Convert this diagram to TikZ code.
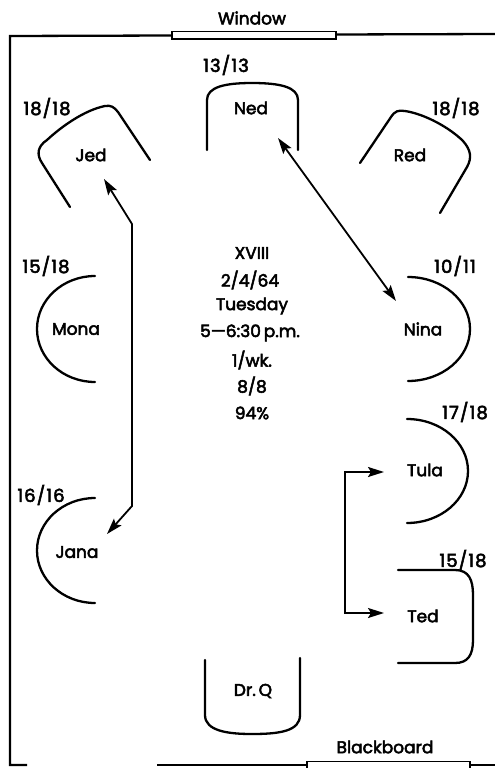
\documentclass[tikz,border=0pt]{standalone}
\usepackage{fontspec}
\setmainfont{Poppins}[FakeBold=3]
\usetikzlibrary{arrows.meta}
\tikzset{
  lbl/.style={font=\fontsize{17}{20}\selectfont, inner sep=0pt},
  num/.style={font=\fontsize{18}{20}\selectfont\addfontfeatures{LetterSpace=6}, inner sep=0pt},
  wall/.style={line width=2.3pt},
  seat/.style={line width=2.3pt, line cap=round},
  pane/.style={line width=1.2pt},
  link/.style={line width=1.8pt, {Stealth[length=16pt,width=10pt,inset=3pt]}-{Stealth[length=16pt,width=10pt,inset=3pt]}}
}
\begin{document}
\begin{tikzpicture}[x=1pt,y=-1pt]
\useasboundingbox (0,0) rectangle (495,768);
% walls
\draw[wall] (172,35.5) -- (10,36) -- (10,765) -- (27,765);
\draw[wall] (336,34.5) -- (495,34);
\draw[wall] (157,765) -- (307,765);
\draw[wall] (470,765) -- (495,765);
\draw[pane] (172,31.5) rectangle (336,39);
\draw[pane] (307,770) -- (307,761.5) -- (470,761.5) -- (470,770);
\node[lbl] (window) at (252,18) {Window};
\node[lbl] (blackboard) at (385,747) {Blackboard};
% seats
\draw[seat] (207,150) -- (207,100) .. controls (207,87) and (225,83) .. (252,83) .. controls (280,83) and (298,87) .. (298,100) -- (298,150);
\draw[seat] (70,207) -- (42,163) .. controls (36,154) and (38,146) .. (47,140) .. controls (62,126) and (85,110) .. (105,106) .. controls (111,105) and (114,107) .. (118,112) -- (150,160);
\draw[seat] (360,163) -- (391,117) .. controls (395,111) and (398,110) .. (405,111) .. controls (425,114) and (450,128) .. (463,141) .. controls (471,150) and (472,158) .. (467,167) -- (440,213);
\draw[seat] (95,276) arc[start angle=270, end angle=90, x radius=58, y radius=53];
\draw[seat] (408,277) arc[start angle=270, end angle=450, x radius=62, y radius=52];
\draw[seat] (95,498) arc[start angle=270, end angle=90, x radius=58, y radius=52.5];
\draw[seat] (407,419) arc[start angle=270, end angle=450, x radius=61, y radius=52];
\draw[seat] (398,570) -- (455,570) .. controls (469,570) and (473,580) .. (473,595) -- (473,640) .. controls (473,655) and (468,663) .. (455,663) -- (398,663);
\draw[seat] (205,660) -- (205,715) .. controls (205,731) and (228,734) .. (252,734) .. controls (280,734) and (300,731) .. (300,715) -- (300,658);
% names
\node[lbl] (ned) at (251,108) {Ned};
\node[lbl] (jed) at (91,155) {Jed};
\node[lbl] (red) at (410,155) {Red};
\node[lbl] (mona) at (76,329) {Mona};
\node[lbl] (nina) at (423,329) {Nina};
\node[lbl] (jana) at (77,552) {Jana};
\node[lbl] (tula) at (425,470) {Tula};
\node[lbl] (ted) at (423,616) {Ted};
\node[lbl] (drq) at (253,691) {Dr.\,Q};
% scores
\node[num] (sned) at (226,65) {13/13};
\node[num] (sjed) at (47,108) {18/18};
\node[num] (sred) at (456,108) {18/18};
\node[num] (smona) at (46,266) {15/18};
\node[num] (snina) at (455,266) {10/11};
\node[num] (sjana) at (41,495) {16/16};
\node[num] (stula) at (465,412) {17/18};
\node[num] (sted) at (463,560) {15/18};
% centre
\node[lbl] (c1) at (252,253) {XVIII};
\node[lbl] (c2) at (250,280) {2/4/64};
\node[lbl] (c3) at (252,306) {Tuesday};
\node[lbl] (c4) at (250,333) {5—6:30\,p.m.};
\node[lbl] (c5) at (252,360) {1/wk.};
\node[lbl] (c6) at (252,386) {8/8};
\node[lbl] (c7) at (252,413) {94\%};
% arrows
\coordinate (a1) at (278,138);
\coordinate (a2) at (396,301);
\draw[link] (a1) -- (a2);
\coordinate (b1) at (104,179);
\coordinate (b2) at (132,224);
\coordinate (b3) at (132,506);
\coordinate (b4) at (107,534);
\draw[link] (b1) -- (b2) -- (b3) -- (b4);
\coordinate (d1) at (384,472);
\coordinate (d2) at (345,472);
\coordinate (d3) at (345,613);
\coordinate (d4) at (384,613);
\draw[link] (d1) -- (d2) -- (d3) -- (d4);
\end{tikzpicture}
\end{document}
